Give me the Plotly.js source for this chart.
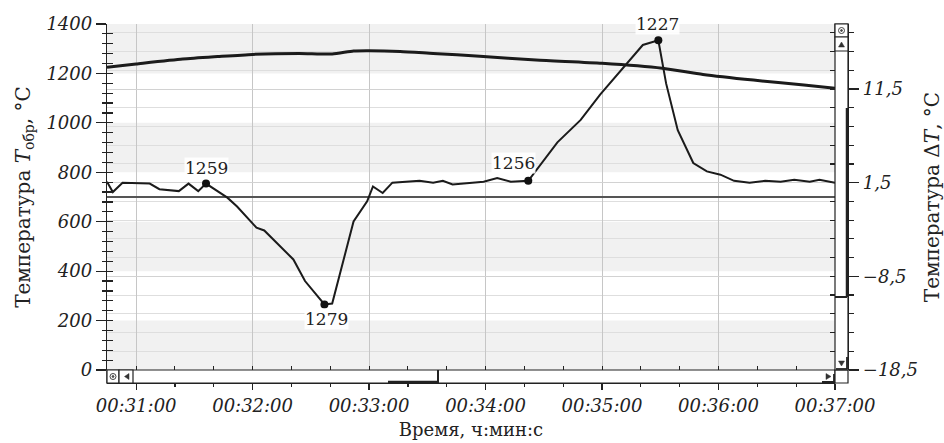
<!DOCTYPE html>
<html>
<head>
<meta charset="utf-8">
<script src="https://cdn.plot.ly/plotly-3.0.1.min.js"></script>
<style>html,body{margin:0;padding:0;background:#fff;}#chart{width:944px;height:443px;}</style>
</head>
<body>
<div id="chart"></div>
<script>
// ---- data ----
const timeT = ['00:30:45','00:31:00','00:31:24','00:31:42','00:32:00','00:32:24','00:32:41','00:32:52','00:33:00','00:33:16','00:33:33','00:33:57','00:34:26','00:35:00','00:35:31','00:35:52','00:36:18','00:36:44','00:37:00'];
const tempT = [1225,1238,1258,1268,1277,1281,1279,1291,1292,1289,1281,1270,1254,1241,1221,1196,1173,1153,1140];

const timeDT = ['00:30:45','00:30:48','00:30:53','00:31:07','00:31:12','00:31:22','00:31:27','00:31:32','00:31:36','00:31:47','00:31:52','00:32:02','00:32:06','00:32:14','00:32:21','00:32:27','00:32:37','00:32:41','00:32:52','00:32:59','00:33:02','00:33:07','00:33:12','00:33:26','00:33:33','00:33:38','00:33:43','00:33:59','00:34:06','00:34:13','00:34:22','00:34:37','00:34:49','00:34:59','00:35:11','00:35:21','00:35:29','00:35:33','00:35:39','00:35:47','00:35:54','00:36:01','00:36:08','00:36:16','00:36:24','00:36:32','00:36:39','00:36:47','00:36:52','00:37:00'];
const deltaT = [1.6,0.5,1.5,1.4,0.8,0.6,1.4,0.6,1.4,-0.1,-1.05,-3.3,-3.6,-5.3,-6.7,-9.0,-11.5,-11.4,-2.65,-0.5,1.1,0.4,1.5,1.7,1.5,1.7,1.3,1.6,2.0,1.6,1.7,5.8,8.2,10.9,13.8,16.2,16.7,12.1,7.1,3.6,2.7,2.35,1.7,1.5,1.7,1.6,1.8,1.6,1.8,1.5];

const markTimes = ['00:31:36','00:32:37','00:34:22','00:35:29'];
const markVals = [1.4,-11.5,1.7,16.7];
const markLabels = ['1259','1279','1256','1227'];

const xRange = ['00:30:45','00:37:00'];
const leftRange = [0,1400];
const rightRange = [-18.5,18.44];

// ---- helpers ----
const D = t => '2000-01-01 ' + t;
const X1 = 728/741;          // plot right edge (scrollbar starts)
const Y0 = 13/359;           // plot bottom (above scrollbar)
const PX = x => (x-107)/741; // paper helpers for scrollbar decoration
const PY = y => (383-y)/359;
const INK = '#222';
const serif = 'DejaVu Serif';

const traces = [
  {x: timeT.map(D), y: tempT, xaxis:'x', yaxis:'y', mode:'lines',
   line:{color:'#1b1b1b', width:3, shape:'spline', smoothing:0.6}, hoverinfo:'skip', showlegend:false},
  {x: timeDT.map(D), y: deltaT, xaxis:'x', yaxis:'y2', mode:'lines',
   line:{color:'#1b1b1b', width:2}, hoverinfo:'skip', showlegend:false},
  {x: markTimes.map(D), y: markVals, xaxis:'x', yaxis:'y2', mode:'markers',
   marker:{color:'#111', size:8}, hoverinfo:'skip', showlegend:false},
  {x: [], y: [], xaxis:'x2', yaxis:'y', showlegend:false},
  {x: [], y: [], xaxis:'x', yaxis:'y3', showlegend:false},
  {x: [], y: [], xaxis:'x', yaxis:'y4', showlegend:false}
];

const tickFont = {family: serif, size:18, style:'italic', color:INK};

// label placement (styling)
const labelShift = [[0,16],[2,-15],[-15,18],[-1,16]];
const annotations = markLabels.map((t,i)=>({
  x: D(markTimes[i]), y: markVals[i], xref:'x', yref:'y2', text:t, showarrow:false,
  xshift: labelShift[i][0], yshift: labelShift[i][1], yanchor:'middle', xanchor:'center',
  bgcolor:'rgba(255,255,255,0.9)', borderpad:0,
  font:{family:serif, size:17, color:INK}
}));

// background bands (every other 200 of left axis)
const shapes = [];
for (let v = leftRange[0]; v < leftRange[1]; v += 400) {
  shapes.push({type:'rect', xref:'paper', yref:'y', x0:0, x1:X1, y0:v, y1:v+200,
    fillcolor:'#f1f1f1', line:{width:0}, layer:'below'});
}
const L = (x0,y0,x1,y1,w) => ({type:'line', xref:'paper', yref:'paper', x0:PX(x0), y0:PY(y0), x1:PX(x1), y1:PY(y1), line:{color:INK, width:w||1.2}, layer:'above'});
const R = (x0,y0,x1,y1) => ({type:'rect', xref:'paper', yref:'paper', x0:PX(x0), y0:PY(y0), x1:PX(x1), y1:PY(y1), fillcolor:'#fff', line:{color:INK, width:1.2}, layer:'above'});
const TRI = (pts) => ({type:'path', xref:'paper', yref:'paper', path: 'M' + pts.map(p=>PX(p[0])+','+PY(p[1])).join(' L') + ' Z', fillcolor:'#333', line:{color:'#333', width:0.5}, layer:'above'});
const CIRC = (cx,cy,r,fill) => ({type:'circle', xref:'paper', yref:'paper', x0:PX(cx-r), x1:PX(cx+r), y0:PY(cy+r), y1:PY(cy-r), fillcolor: fill||'rgba(0,0,0,0)', line:{color:'#444', width:1}, layer:'above'});

// horizontal scrollbar
shapes.push(R(107,370,835,383));
shapes.push(R(107,370,119,383), CIRC(113,376.5,3), CIRC(113,376.5,0.9,'#444'));
shapes.push(R(119,370,133,383), TRI([[129,373.5],[129,379.5],[124.5,376.5]]));
shapes.push(L(388,382,438,382,2.5), L(438,370,438,383,2));
shapes.push(TRI([[826,373.5],[826,379.5],[831,376.5]]), L(822,382,834,382,2), L(834,374,834,383,1.8));
// corner + vertical scrollbar
shapes.push(R(835,370,848,383));
shapes.push(R(835,24,848,370));
shapes.push(R(835,24,848,37), CIRC(841.5,30.5,3), CIRC(841.5,30.5,0.9,'#444'));
shapes.push(R(835,37,848,51), TRI([[838.5,47],[844.5,47],[841.5,42]]));
shapes.push(L(847,108,847,297,2.5), L(835,297,847,297,2));
shapes.push(TRI([[838.5,361],[844.5,361],[841.5,366]]), L(847,357,847,369,1.8), L(836,369,847,369,1.8));

const layout = {
  width:944, height:443,
  margin:{l:107, r:96, t:24, b:60, pad:0},
  paper_bgcolor:'#fff', plot_bgcolor:'rgba(0,0,0,0)',
  separators:', ',
  showlegend:false,
  xaxis:{type:'date', domain:[0,X1], anchor:'free', position:0,
    range:xRange.map(D), showline:true, linecolor:INK, linewidth:1.2, mirror:false,
    ticks:'outside', ticklen:6, tickcolor:INK, tickwidth:1.2,
    tick0:D('00:31:00'), dtick:60000, tickformat:'%H:%M:%S', tickfont:tickFont,
    minor:{dtick:20000, ticks:'outside', ticklen:3, tickcolor:INK, showgrid:false},
    showgrid:true, gridcolor:'#c6c6c6', gridwidth:1, zeroline:false,
    title:{text:'Время, ч:мин:с', font:{family:serif, size:18, color:INK}, standoff:8}},
  xaxis2:{type:'date', overlaying:'x', anchor:'free', position:Y0,
    range:xRange.map(D), showline:true, linecolor:INK, linewidth:1.2,
    ticks:'inside', ticklen:4, tickcolor:INK, tick0:D('00:31:00'), dtick:20000,
    showticklabels:false, showgrid:false, zeroline:false},
  yaxis:{domain:[Y0,1], anchor:'x', range:leftRange, tick0:0, dtick:200,
    showline:true, linecolor:INK, linewidth:1.2,
    ticks:'outside', ticklen:10, tickcolor:INK, tickwidth:1.2, tickfont:tickFont,
    minor:{dtick:40, ticks:'outside', ticklen:4, tickcolor:INK, showgrid:false},
    showgrid:false, zeroline:false,
    title:{text:'Температура <i>T</i><sub>обр</sub>, °C', font:{family:serif, size:20, color:INK}, standoff:10}},
  yaxis4:{overlaying:'y', anchor:'x', side:'left', range:leftRange, tick0:0, dtick:40,
    ticks:'inside', ticklen:6, tickcolor:INK, tickwidth:1.2, showticklabels:false,
    showline:false, showgrid:false, zeroline:false},
  yaxis2:{overlaying:'y', anchor:'free', position:1, side:'right', range:rightRange,
    tick0:1.5, dtick:10, showline:true, linecolor:INK, linewidth:1.2,
    ticks:'outside', ticklen:10, tickcolor:INK, tickwidth:1.2, tickfont:tickFont,
    minor:{tick0:1.5, dtick:2, ticks:'outside', ticklen:5, tickcolor:INK, showgrid:true, gridcolor:'#dedede', gridwidth:1},
    showgrid:true, gridcolor:'#d2d2d2', gridwidth:1,
    zeroline:true, zerolinecolor:'#555', zerolinewidth:1.6,
    title:{text:'Температура Δ<i>T</i>, °C', font:{family:serif, size:20, color:INK}, standoff:12}},
  yaxis3:{overlaying:'y', anchor:'free', position:X1, side:'right', range:rightRange,
    tick0:1.5, dtick:2, ticks:'inside', ticklen:5, tickcolor:INK, tickwidth:1.2,
    showticklabels:false, showline:true, linecolor:INK, linewidth:1.2,
    showgrid:false, zeroline:false},
  annotations: annotations,
  shapes: shapes
};

Plotly.newPlot('chart', traces, layout, {staticPlot:true, displayModeBar:false});
</script>
</body>
</html>
